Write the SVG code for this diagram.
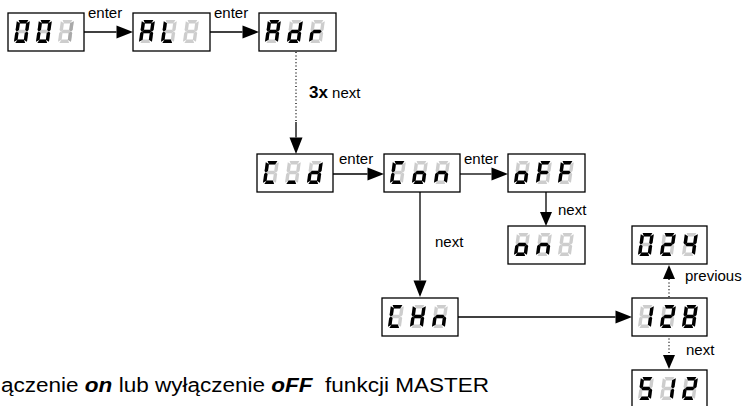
<svg xmlns="http://www.w3.org/2000/svg" xmlns:xlink="http://www.w3.org/1999/xlink" width="744" height="406" viewBox="0 0 744 406">
<style>
.box{fill:#fff;stroke:#000;stroke-width:1.3}
.off{fill:#cdcdcd}
.mid{fill:#a9a9a9}
.on{fill:#000}
.seg polygon{stroke:#fff;stroke-width:0.5}
.ln{stroke:#000;stroke-width:1.3;fill:none}
.dot{stroke:#000;stroke-width:1.3;fill:none;stroke-dasharray:1 2.4}
.lbl{font-family:"Liberation Sans",Arial,sans-serif;font-size:15px;fill:#000}
.cap{font-family:"Liberation Sans",Arial,sans-serif;font-size:20px;fill:#000;white-space:pre}
.bi{font-weight:bold;font-style:italic}
</style>
<defs>
<marker id="ah" markerUnits="userSpaceOnUse" markerWidth="18" markerHeight="14" viewBox="0 -7 17 14" refX="0" refY="0" orient="auto"><path d="M0,-6.5 L16.5,0 L0,6.5 Z" fill="#000"/></marker>
<marker id="as" markerUnits="userSpaceOnUse" markerWidth="15" markerHeight="13" viewBox="0 -6.5 15 13" refX="0" refY="0" orient="auto"><path d="M0,-6 L14,0 L0,6 Z" fill="#000"/></marker>
<polygon id="sa" points="1.6,0 11.4,0 9.6,3.4 3.4,3.4"/>
<polygon id="sb" points="13,1.3 13,10.1 11.6,11.5 9.6,9.9 9.6,3.3"/>
<polygon id="sc" points="13,12.9 13,21.7 9.6,19.7 9.6,13.1 11.6,11.5"/>
<polygon id="sd" points="3.4,19.6 9.6,19.6 11.4,23 1.6,23"/>
<polygon id="se" points="0,12.9 1.4,11.5 3.4,13.1 3.4,19.7 0,21.7"/>
<polygon id="sf" points="0,1.3 3.4,3.3 3.4,9.9 1.4,11.5 0,10.1"/>
<polygon id="sg" points="1.7,11.5 3.4,9.8 9.6,9.8 11.3,11.5 9.6,13.2 3.4,13.2"/>
<g id="k8" class="seg"><use href="#sa"/><use href="#sb"/><use href="#sc"/><use href="#sd"/><use href="#se"/><use href="#sf"/><use href="#sg"/></g>
<g id="k0" class="seg"><use href="#sa"/><use href="#sb"/><use href="#sc"/><use href="#sd"/><use href="#se"/><use href="#sf"/></g>
<g id="k1" class="seg"><use href="#sb"/><use href="#sc"/></g>
<g id="k2" class="seg"><use href="#sa"/><use href="#sb"/><use href="#sg"/><use href="#se"/><use href="#sd"/></g>
<g id="k4" class="seg"><use href="#sf"/><use href="#sg"/><use href="#sb"/><use href="#sc"/></g>
<g id="k5" class="seg"><use href="#sa"/><use href="#sf"/><use href="#sg"/><use href="#sc"/><use href="#sd"/></g>
<g id="kA" class="seg"><use href="#sa"/><use href="#sb"/><use href="#sc"/><use href="#se"/><use href="#sf"/><use href="#sg"/></g>
<g id="kL" class="seg"><use href="#sd"/><use href="#se"/><use href="#sf"/></g>
<g id="kd" class="seg"><use href="#sb"/><use href="#sc"/><use href="#sd"/><use href="#se"/><use href="#sg"/></g>
<g id="kr" class="seg"><use href="#se"/><use href="#sg"/></g>
<g id="kC" class="seg"><use href="#sa"/><use href="#sd"/><use href="#se"/><use href="#sf"/></g>
<g id="ku" class="seg"><use href="#sd"/></g>
<g id="ko" class="seg"><use href="#sc"/><use href="#sd"/><use href="#se"/><use href="#sg"/></g>
<g id="kn" class="seg"><use href="#sc"/><use href="#se"/><use href="#sg"/></g>
<g id="kF" class="seg"><use href="#sa"/><use href="#se"/><use href="#sf"/><use href="#sg"/></g>
<g id="kH" class="seg"><use href="#sb"/><use href="#sc"/><use href="#se"/><use href="#sf"/><use href="#sg"/></g>
</defs>

<g id="connectors">
<line class="ln" x1="84" y1="32" x2="116.5" y2="32" marker-end="url(#ah)"/>
<line class="ln" x1="210" y1="32" x2="242.5" y2="32" marker-end="url(#ah)"/>
<line class="dot" x1="296" y1="52" x2="296" y2="122"/>
<line class="ln" x1="296" y1="122" x2="296" y2="137.5" marker-end="url(#ah)"/>
<line class="ln" x1="333" y1="174" x2="367.5" y2="174" marker-end="url(#ah)"/>
<line class="ln" x1="460" y1="174" x2="491.5" y2="174" marker-end="url(#ah)"/>
<line class="ln" x1="546" y1="192" x2="546" y2="212" marker-end="url(#as)"/>
<line class="ln" x1="420" y1="192" x2="420" y2="280.5" marker-end="url(#ah)"/>
<line class="ln" x1="458" y1="317" x2="615.5" y2="317" marker-end="url(#ah)"/>
<line class="dot" x1="669" y1="297" x2="669" y2="279" marker-end="url(#as)"/>
<line class="dot" x1="669" y1="335" x2="669" y2="355" marker-end="url(#as)"/>
<text class="lbl" x="88" y="18">enter</text>
<text class="lbl" x="214" y="18">enter</text>
<text class="lbl" x="309" y="98"><tspan font-weight="bold" font-size="17">3x</tspan> next</text>
<text class="lbl" x="339" y="164">enter</text>
<text class="lbl" x="464" y="164">enter</text>
<text class="lbl" x="558" y="215">next</text>
<text class="lbl" x="435" y="247">next</text>
<text class="lbl" x="685" y="281">previous</text>
<text class="lbl" x="686" y="355">next</text>
</g>

<g id="n001">
<rect class="box" x="8" y="13" width="76" height="38"/>
<g transform="translate(17,20) skewX(-8)"><use href="#k8" class="off"/><use href="#k0" class="on"/></g>
<g transform="translate(39,20) skewX(-8)"><use href="#k8" class="off"/><use href="#k0" class="on"/></g>
<g transform="translate(61,20) skewX(-8)"><use href="#k8" class="off"/><use href="#k1" class="mid"/></g>
</g>
<g id="nALL">
<rect class="box" x="133" y="13" width="77" height="38"/>
<g transform="translate(142,20) skewX(-8)"><use href="#k8" class="off"/><use href="#kA" class="on"/></g>
<g transform="translate(164,20) skewX(-8)"><use href="#k8" class="off"/><use href="#kL" class="on"/></g>
<g transform="translate(186,20) skewX(-8)"><use href="#k8" class="off"/></g>
</g>
<g id="nAdr">
<rect class="box" x="259" y="13" width="77" height="38"/>
<g transform="translate(268,20) skewX(-8)"><use href="#k8" class="off"/><use href="#kA" class="on"/></g>
<g transform="translate(290,20) skewX(-8)"><use href="#k8" class="off"/><use href="#kd" class="on"/></g>
<g transform="translate(312,20) skewX(-8)"><use href="#k8" class="off"/><use href="#kr" class="on"/></g>
</g>
<g id="nCd">
<rect class="box" x="257" y="154" width="76" height="38"/>
<g transform="translate(266,161) skewX(-8)"><use href="#k8" class="off"/><use href="#kC" class="on"/></g>
<g transform="translate(288,161) skewX(-8)"><use href="#k8" class="off"/><use href="#ku" class="on"/></g>
<g transform="translate(310,161) skewX(-8)"><use href="#k8" class="off"/><use href="#kd" class="on"/></g>
</g>
<g id="nCon">
<rect class="box" x="384" y="154" width="76" height="38"/>
<g transform="translate(393,161) skewX(-8)"><use href="#k8" class="off"/><use href="#kC" class="on"/></g>
<g transform="translate(415,161) skewX(-8)"><use href="#k8" class="off"/><use href="#ko" class="on"/></g>
<g transform="translate(437,161) skewX(-8)"><use href="#k8" class="off"/><use href="#kn" class="on"/></g>
</g>
<g id="noFF">
<rect class="box" x="508" y="154" width="77" height="38"/>
<g transform="translate(517,161) skewX(-8)"><use href="#k8" class="off"/><use href="#ko" class="on"/></g>
<g transform="translate(539,161) skewX(-8)"><use href="#k8" class="off"/><use href="#kF" class="on"/></g>
<g transform="translate(561,161) skewX(-8)"><use href="#k8" class="off"/><use href="#kF" class="on"/></g>
</g>
<g id="non">
<rect class="box" x="508" y="226" width="77" height="38"/>
<g transform="translate(517,233) skewX(-8)"><use href="#k8" class="off"/><use href="#ko" class="on"/></g>
<g transform="translate(539,233) skewX(-8)"><use href="#k8" class="off"/><use href="#kn" class="on"/></g>
<g transform="translate(561,233) skewX(-8)"><use href="#k8" class="off"/></g>
</g>
<g id="nCHn">
<rect class="box" x="382" y="298" width="76" height="38"/>
<g transform="translate(391,305) skewX(-8)"><use href="#k8" class="off"/><use href="#kC" class="on"/></g>
<g transform="translate(413,305) skewX(-8)"><use href="#k8" class="off"/><use href="#kH" class="on"/></g>
<g transform="translate(435,305) skewX(-8)"><use href="#k8" class="off"/><use href="#kn" class="on"/></g>
</g>
<g id="n024">
<rect class="box" x="632" y="226" width="75" height="38"/>
<g transform="translate(641,233) skewX(-8)"><use href="#k8" class="off"/><use href="#k0" class="on"/></g>
<g transform="translate(663,233) skewX(-8)"><use href="#k8" class="off"/><use href="#k2" class="on"/></g>
<g transform="translate(685,233) skewX(-8)"><use href="#k8" class="off"/><use href="#k4" class="on"/></g>
</g>
<g id="n128">
<rect class="box" x="632" y="298" width="75" height="38"/>
<g transform="translate(641,305) skewX(-8)"><use href="#k8" class="off"/><use href="#k1" class="on"/></g>
<g transform="translate(663,305) skewX(-8)"><use href="#k8" class="off"/><use href="#k2" class="on"/></g>
<g transform="translate(685,305) skewX(-8)"><use href="#k8" class="off"/><use href="#k8" class="on"/></g>
</g>
<g id="n512">
<rect class="box" x="632" y="370" width="75" height="38"/>
<g transform="translate(641,377) skewX(-8)"><use href="#k8" class="off"/><use href="#k5" class="on"/></g>
<g transform="translate(663,377) skewX(-8)"><use href="#k8" class="off"/><use href="#k1" class="on"/></g>
<g transform="translate(685,377) skewX(-8)"><use href="#k8" class="off"/><use href="#k2" class="on"/></g>
</g>

<g id="caption">
<text class="cap" x="1" y="392" textLength="488" lengthAdjust="spacingAndGlyphs">ączenie <tspan class="bi">on</tspan> lub wyłączenie <tspan class="bi">oFF</tspan>  funkcji MASTER</text>
</g>
</svg>
